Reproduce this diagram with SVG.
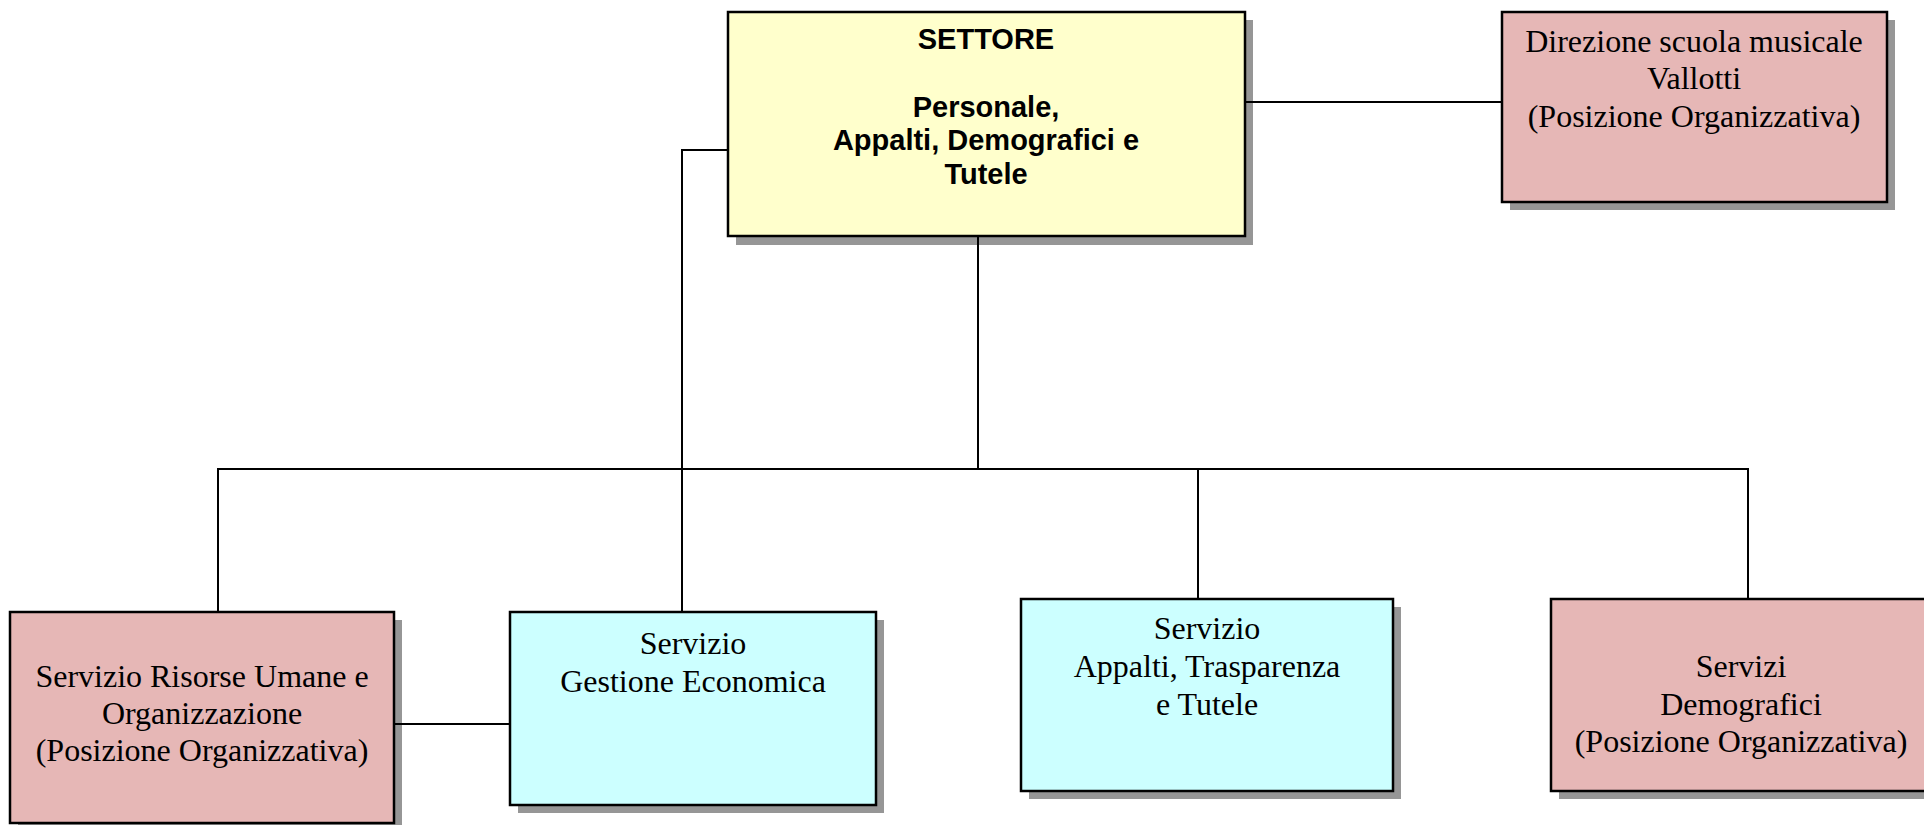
<svg xmlns="http://www.w3.org/2000/svg" width="1924" height="825" viewBox="0 0 1924 825">
<style>
.sh{fill:#969696}
.bx{stroke:#000;stroke-width:2.5}
.y{fill:#FFFFCC}
.p{fill:#E6B7B6}
.c{fill:#CCFFFF}
.con{stroke:#000;stroke-width:2;fill:none}
.t{font-family:"Liberation Serif","Times New Roman",serif;font-size:32px;fill:#000;text-anchor:middle}
.b{font-family:"Liberation Sans",Arial,sans-serif;font-size:29px;font-weight:bold;fill:#000;text-anchor:middle}
</style>
<rect width="1924" height="825" fill="#fff"/>
<g id="settore">
<rect class="sh" x="736" y="20" width="517" height="225"/>
<rect class="bx y" x="728" y="12" width="517" height="224"/>
<text class="b" x="986" y="49">SETTORE</text>
<text class="b" x="986" y="117">Personale,</text>
<text class="b" x="986" y="150">Appalti, Demografici e</text>
<text class="b" x="986" y="184">Tutele</text>
</g>
<g id="direzione">
<rect class="sh" x="1510" y="20" width="385" height="190"/>
<rect class="bx p" x="1502" y="12" width="385" height="190"/>
<text class="t" x="1694" y="52">Direzione scuola musicale</text>
<text class="t" x="1694" y="89">Vallotti</text>
<text class="t" x="1694" y="127">(Posizione Organizzativa)</text>
</g>
<g id="risorse">
<rect class="sh" x="18" y="620" width="384" height="215"/>
<rect class="bx p" x="10" y="612" width="384" height="211"/>
<text class="t" x="202" y="687">Servizio Risorse Umane e</text>
<text class="t" x="202" y="724">Organizzazione</text>
<text class="t" x="202" y="761">(Posizione Organizzativa)</text>
</g>
<g id="gestione">
<rect class="sh" x="518" y="620" width="366" height="193"/>
<rect class="bx c" x="510" y="612" width="366" height="193"/>
<text class="t" x="693" y="654">Servizio</text>
<text class="t" x="693" y="692">Gestione Economica</text>
</g>
<g id="appalti">
<rect class="sh" x="1029" y="607" width="372" height="192"/>
<rect class="bx c" x="1021" y="599" width="372" height="192"/>
<text class="t" x="1207" y="639">Servizio</text>
<text class="t" x="1207" y="677">Appalti, Trasparenza</text>
<text class="t" x="1207" y="715">e Tutele</text>
</g>
<g id="demografici">
<rect class="sh" x="1559" y="607" width="380" height="192"/>
<rect class="bx p" x="1551" y="599" width="380" height="192"/>
<text class="t" x="1741" y="677">Servizi</text>
<text class="t" x="1741" y="715">Demografici</text>
<text class="t" x="1741" y="752">(Posizione Organizzativa)</text>
</g>
<g id="connectors">
<path class="con" d="M1246 102H1501"/>
<path class="con" d="M727 150H682V611"/>
<path class="con" d="M978 237V469"/>
<path class="con" d="M218 611V469H1748V598"/>
<path class="con" d="M1198 469V598"/>
<path class="con" d="M395 724H509"/>
</g>
</svg>
